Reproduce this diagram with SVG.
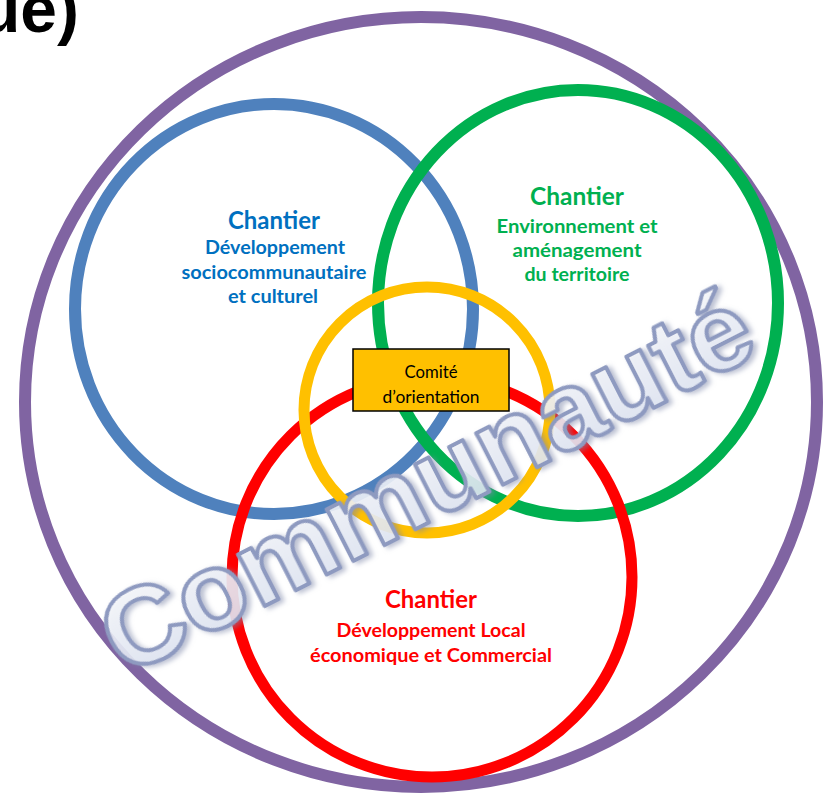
<svg xmlns="http://www.w3.org/2000/svg" width="829" height="797" viewBox="0 0 829 797">
  <defs>
    <style>
      .ring { fill: none; }
      .lbl { font-family: Lato, "Liberation Sans", sans-serif; font-weight: bold; text-anchor: middle; }
      .head { font-size: 24px; }
      .sub { font-size: 19px; }
      .blue { fill: #0070C0; }
      .green { fill: #00B050; }
      .red { fill: #FF0000; }
      .box-txt { font-family: Lato, "Liberation Sans", sans-serif; font-size: 16.5px; fill: #000; text-anchor: middle; }
      .wm { font-family: "Liberation Sans", Arial, sans-serif; font-weight: bold; font-size: 110px; text-anchor: middle; }
    </style>
    <filter id="wmShadow" x="-10%" y="-30%" width="120%" height="160%">
      <feGaussianBlur in="SourceAlpha" stdDeviation="2.5" result="b"/>
      <feOffset in="b" dx="3" dy="3" result="o"/>
      <feFlood flood-color="#7C86A8" flood-opacity="0.55"/>
      <feComposite in2="o" operator="in" result="s"/>
      <feMerge>
        <feMergeNode in="s"/>
        <feMergeNode in="SourceGraphic"/>
      </feMerge>
    </filter>
    <linearGradient id="wmFill" x1="0" y1="0" x2="0" y2="1">
      <stop offset="0" stop-color="#FFFFFF"/>
      <stop offset="1" stop-color="#DCE3F2"/>
    </linearGradient>
  </defs>

  <rect width="829" height="797" fill="#FFFFFF"/>

  <!-- cropped title fragment -->
  <text x="-20" y="32" font-family="'Liberation Sans', Arial, sans-serif" font-weight="bold" font-size="66" fill="#000">ue)</text>

  <g id="communaute-ring">
    <ellipse class="ring" cx="421" cy="402" rx="396" ry="385" stroke="#8064A2" stroke-width="12"/>
  </g>
  <g id="chantier-socio">
    <ellipse class="ring" cx="274" cy="309" rx="199" ry="205" stroke="#4F81BD" stroke-width="12"/>
    <text class="lbl head blue" x="274" y="229" textLength="92" lengthAdjust="spacingAndGlyphs">Chantier</text>
    <text class="lbl sub blue" x="275" y="254" textLength="140" lengthAdjust="spacingAndGlyphs">Développement</text>
    <text class="lbl sub blue" x="274" y="279" textLength="185" lengthAdjust="spacingAndGlyphs">sociocommunautaire</text>
    <text class="lbl sub blue" x="273" y="303" textLength="90" lengthAdjust="spacingAndGlyphs">et culturel</text>
  </g>
  <g id="chantier-env">
    <ellipse class="ring" cx="578" cy="303" rx="200" ry="213" stroke="#00B050" stroke-width="12"/>
    <text class="lbl head green" x="577" y="205" textLength="94" lengthAdjust="spacingAndGlyphs">Chantier</text>
    <text class="lbl sub green" x="577" y="233" textLength="161" lengthAdjust="spacingAndGlyphs">Environnement et</text>
    <text class="lbl sub green" x="577" y="257" textLength="129" lengthAdjust="spacingAndGlyphs">aménagement</text>
    <text class="lbl sub green" x="577" y="281" textLength="105" lengthAdjust="spacingAndGlyphs">du territoire</text>
  </g>
  <g id="chantier-eco">
    <ellipse class="ring" cx="432" cy="577" rx="200" ry="200" stroke="#FF0000" stroke-width="11"/>
    <text class="lbl head red" x="431" y="608" textLength="92" lengthAdjust="spacingAndGlyphs">Chantier</text>
    <text class="lbl sub red" x="431" y="637" textLength="189" lengthAdjust="spacingAndGlyphs">Développement Local</text>
    <text class="lbl sub red" x="431" y="662" textLength="242" lengthAdjust="spacingAndGlyphs">économique et Commercial</text>
  </g>
  <g id="comite-ring">
    <ellipse class="ring" cx="427" cy="410" rx="123" ry="123" stroke="#FFC000" stroke-width="11"/>
  </g>
  <g id="comite">
    <rect x="353" y="349" width="156" height="62" fill="#FFC000" stroke="#000" stroke-width="1.5"/>
    <text class="box-txt" x="431" y="378" textLength="53" lengthAdjust="spacingAndGlyphs">Comité</text>
    <text class="box-txt" x="431" y="403" textLength="97" lengthAdjust="spacingAndGlyphs">d’orientation</text>
  </g>

  <g id="watermark" transform="translate(427 483) rotate(-27)" filter="url(#wmShadow)">
    <text class="wm" x="0" y="36" textLength="715" lengthAdjust="spacingAndGlyphs" fill="url(#wmFill)" fill-opacity="0.85" stroke="#8E9AC0" stroke-width="4" stroke-linejoin="round">Communauté</text>
  </g>
</svg>
